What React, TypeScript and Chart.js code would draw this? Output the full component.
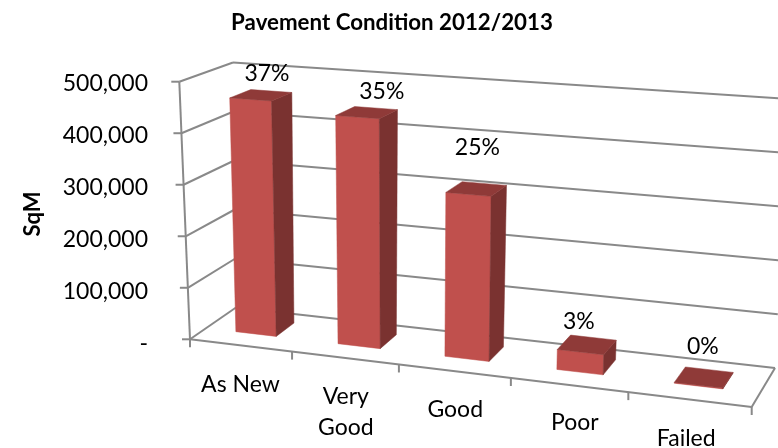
import React, { useEffect, useRef } from "react";
import { Chart, BarController, registerables } from "chart.js";

Chart.register(...registerables);

// Pavement area per condition class, in square metres
const categories: (string | string[])[] = ["As New", ["Very", "Good"], "Good", "Poor", "Failed"];
const areaSqM = [459000, 440000, 310000, 37000, 1500];
const axisMax = 500000;
const axisStep = 100000;

const titleText = "Pavement Condition 2012/2013";
const axisTitleText = "SqM";

const FONT = "Lato, Carlito, Calibri, sans-serif";
const GRID = "#898989";
const FACE = "#C0504D";
const SIDE = "#7A3230";
const TOP = "#8F3A38";

type Pt = [number, number];

// Maps the unit square (u along the categories, w into the depth) onto a quad
function planeMap(p00: Pt, p10: Pt, p11: Pt, p01: Pt) {
  const dx1 = p10[0] - p11[0], dx2 = p01[0] - p11[0], sx = p00[0] - p10[0] + p11[0] - p01[0];
  const dy1 = p10[1] - p11[1], dy2 = p01[1] - p11[1], sy = p00[1] - p10[1] + p11[1] - p01[1];
  const det = dx1 * dy2 - dx2 * dy1;
  const g = (sx * dy2 - dx2 * sy) / det;
  const h = (dx1 * sy - sx * dy1) / det;
  const a = p10[0] - p00[0] + g * p10[0], b = p01[0] - p00[0] + h * p01[0];
  const d = p10[1] - p00[1] + g * p10[1], e = p01[1] - p00[1] + h * p01[1];
  return (u: number, w: number): Pt => {
    const q = g * u + h * w + 1;
    return [(a * u + b * w + p00[0]) / q, (d * u + e * w + p00[1]) / q];
  };
}

// Perspective frame of the plot box: floor and ceiling planes
const floorPlane = planeMap([190, 339.3], [751.7, 407], [775, 368], [236, 307.5]);
const ceilingPlane = planeMap([179.3, 81.7], [765, 123], [789, 99], [233, 62.5]);

function project(u: number, v: number, w: number): Pt {
  const f = floorPlane(u, w);
  const c = ceilingPlane(u, w);
  return [f[0] + (c[0] - f[0]) * v, f[1] + (c[1] - f[1]) * v];
}

// Depth span of the columns inside the box
const DEPTH_FRONT = 0.34;
const DEPTH_BACK = 0.75;

// Hand placement of the percentage labels and category labels, relative to their anchors
const percentNudge: Pt[] = [[6, -22], [15, -21], [1, -41], [-8, -23], [-1, -31]];
const categoryNudge: Pt[] = [[0, 39], [1, 39], [1, 38], [6, 38], [-3, 39]];

function segment(ctx: CanvasRenderingContext2D, a: Pt, b: Pt) {
  ctx.beginPath();
  ctx.moveTo(a[0], a[1]);
  ctx.lineTo(b[0], b[1]);
  ctx.stroke();
}

function quad(ctx: CanvasRenderingContext2D, pts: Pt[], color: string) {
  ctx.fillStyle = color;
  ctx.strokeStyle = color;
  ctx.lineWidth = 0.5;
  ctx.beginPath();
  pts.forEach((p, i) => (i ? ctx.lineTo(p[0], p[1]) : ctx.moveTo(p[0], p[1])));
  ctx.closePath();
  ctx.fill();
  ctx.stroke();
}

// Column chart whose bars are drawn as boxes in the perspective frame
class Bar3DController extends BarController {
  static id = "bar3d";
  static defaults = BarController.defaults;
  static overrides = BarController.overrides;

  draw() {
    const chart = this.chart;
    const ctx = chart.ctx;
    const { left, width, top, height } = chart.chartArea;
    const bottom = top + height;
    const total = areaSqM.reduce((s, n) => s + n, 0);
    this.getMeta().data.forEach((bar: any, i: number) => {
      const u0 = (bar.x - bar.width / 2 - left) / width;
      const u1 = (bar.x + bar.width / 2 - left) / width;
      const vTop = (bottom - bar.y) / height;
      const a = (u: number, v: number, w: number) => project(u, v, w);
      const w0 = DEPTH_FRONT, w1 = DEPTH_BACK;
      quad(ctx, [a(u0, 0, w0), a(u1, 0, w0), a(u1, vTop, w0), a(u0, vTop, w0)], bar.options.backgroundColor);
      quad(ctx, [a(u1, 0, w0), a(u1, 0, w1), a(u1, vTop, w1), a(u1, vTop, w0)], SIDE);
      quad(ctx, [a(u0, vTop, w0), a(u1, vTop, w0), a(u1, vTop, w1), a(u0, vTop, w1)], TOP);

      const anchor = a((u0 + u1) / 2, vTop, (w0 + w1) / 2);
      ctx.fillStyle = "#000";
      ctx.font = `23px ${FONT}`;
      ctx.textAlign = "center";
      ctx.textBaseline = "middle";
      const pct = Math.round((areaSqM[i] / total) * 100) + "%";
      ctx.fillText(pct, anchor[0] + percentNudge[i][0], anchor[1] + percentNudge[i][1]);
    });
  }
}
Chart.register(Bar3DController);

// Walls, floor, axis lines and category labels of the perspective box
const boxPlugin = {
  id: "box3d",
  beforeDatasetsDraw(chart: any) {
    const ctx: CanvasRenderingContext2D = chart.ctx;
    const { top, height } = chart.chartArea;
    const yScale = chart.scales.y;
    const xScale = chart.scales.x;
    ctx.save();
    ctx.strokeStyle = GRID;
    ctx.lineWidth = 2;

    yScale.ticks.forEach((t: any) => {
      const v = (top + height - yScale.getPixelForValue(t.value)) / height;
      const front = project(0, v, 0);
      const back = project(0, v, 1);
      segment(ctx, [front[0] - 8, front[1]], front);
      segment(ctx, front, back);
      segment(ctx, back, project(1, v, 1));
    });

    segment(ctx, project(0, 0, 0), project(0, 1, 0));
    segment(ctx, project(0, 0, 0), project(1, 0, 0));
    segment(ctx, project(1, 0, 0), project(1, 0, 1));

    const n = chart.data.labels.length;
    for (let i = 0; i <= n; i++) {
      const p = project(i / n, 0, 0);
      segment(ctx, p, [p[0], p[1] + 8]);
    }

    ctx.fillStyle = "#000";
    ctx.font = `23px ${FONT}`;
    ctx.textAlign = "center";
    ctx.textBaseline = "middle";
    chart.data.labels.forEach((label: string | string[], i: number) => {
      const u = (xScale.getPixelForValue(i) - chart.chartArea.left) / chart.chartArea.width;
      const p = project(u, 0, 0);
      const lines = Array.isArray(label) ? label : [label];
      lines.forEach((line, k) =>
        ctx.fillText(line, p[0] + categoryNudge[i][0], p[1] + categoryNudge[i][1] + k * 31)
      );
    });
    ctx.restore();
  },
};

export default function App() {
  const ref = useRef<HTMLCanvasElement>(null);

  useEffect(() => {
    const chart = new Chart(ref.current!, {
      type: "bar3d" as any,
      data: {
        labels: categories as any,
        datasets: [
          {
            data: areaSqM,
            backgroundColor: FACE,
            barPercentage: 0.4,
            categoryPercentage: 1,
            clip: false as any,
          },
        ],
      },
      options: {
        responsive: false,
        animation: false,
        events: [],
        layout: { padding: { left: 6, right: 0, top: 0, bottom: 104 } },
        plugins: {
          legend: { display: false },
          tooltip: { enabled: false },
          title: {
            display: true,
            text: titleText,
            color: "#000",
            font: { family: FONT, size: 22.3, weight: "bold", lineHeight: 1.2 },
            padding: { top: 9, bottom: 48.2 },
          },
        },
        scales: {
          x: { type: "category", display: false, offset: true },
          y: {
            type: "linear",
            min: 0,
            max: axisMax,
            afterFit: (s: any) => {
              s.width = 150;
            },
            border: { display: false },
            grid: { display: false },
            ticks: {
              stepSize: axisStep,
              padding: 0,
              color: "#000",
              font: { family: FONT, size: 23 },
              callback: (value: any) => (value === 0 ? "-" : Number(value).toLocaleString("en-US")),
            },
            title: {
              display: true,
              text: axisTitleText,
              color: "#000",
              font: { family: FONT, size: 22, weight: "bold", lineHeight: 1.2 },
              padding: { top: 14, bottom: 0 },
            },
          },
        },
      },
      plugins: [boxPlugin],
    } as any);
    return () => chart.destroy();
  }, []);

  return (
    <div style={{ position: "fixed", left: 0, top: 0, width: 778, height: 448, background: "#fff" }}>
      <canvas ref={ref} width={778} height={448} style={{ display: "block" }} />
    </div>
  );
}
